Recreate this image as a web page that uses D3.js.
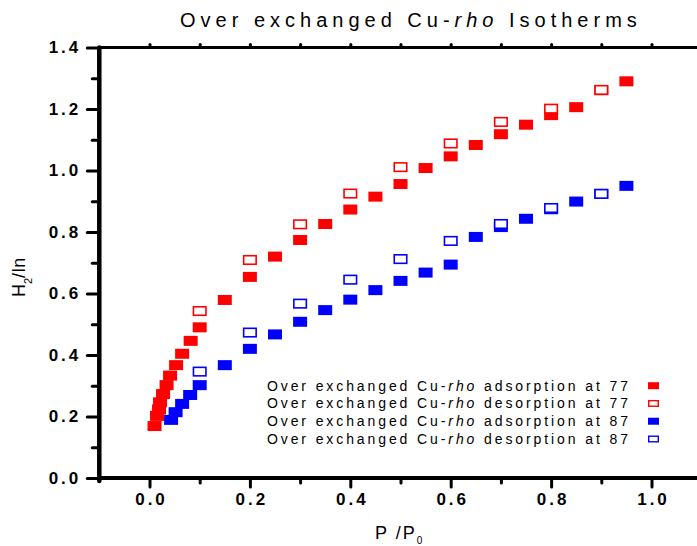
<!DOCTYPE html>
<html>
<head>
<meta charset="utf-8">
<script src="https://cdn.jsdelivr.net/npm/d3@7"></script>
<style>
  html, body { margin: 0; padding: 0; background: #fff; overflow: hidden; }
  svg { display: block; font-family: "Liberation Sans", Arial, sans-serif; }
</style>
</head>
<body>
<svg id="chart" width="697" height="546"></svg>
<script>
// H2 uptake (H2/In) vs relative pressure P/P0
const ads77X = [0.010, 0.015, 0.019, 0.021, 0.027, 0.034, 0.041, 0.053, 0.065, 0.082, 0.10,
                0.15, 0.20, 0.25, 0.30, 0.35, 0.40, 0.45, 0.50, 0.55, 0.60, 0.65, 0.70,
                0.75, 0.80, 0.85, 0.90, 0.95];
const ads77Y = [0.169, 0.202, 0.223, 0.246, 0.273, 0.302, 0.333, 0.367, 0.404, 0.446, 0.490,
                0.579, 0.654, 0.720, 0.774, 0.826, 0.873, 0.915, 0.956, 1.008, 1.046, 1.083, 1.118,
                1.149, 1.180, 1.206, 1.261, 1.290];

const des77X = [0.10, 0.20, 0.30, 0.40, 0.50, 0.60, 0.70, 0.80, 0.90];
const des77Y = [0.543, 0.709, 0.825, 0.925, 1.011, 1.088, 1.158, 1.201, 1.262];

const ads87X = [0.043, 0.052, 0.065, 0.081, 0.10, 0.15, 0.20, 0.25, 0.30, 0.35, 0.40,
                0.45, 0.50, 0.55, 0.60, 0.65, 0.70, 0.75, 0.80, 0.85, 0.90, 0.95];
const ads87Y = [0.189, 0.214, 0.241, 0.270, 0.302, 0.367, 0.420, 0.467, 0.508, 0.546, 0.580,
                0.611, 0.641, 0.668, 0.694, 0.784, 0.816, 0.843, 0.874, 0.899, 0.924, 0.950];

const des87X = [0.10, 0.20, 0.30, 0.40, 0.50, 0.60, 0.70, 0.80, 0.90];
const des87Y = [0.346, 0.473, 0.567, 0.645, 0.712, 0.771, 0.826, 0.878, 0.924];

const seriesLabels = ["adsorption at 77", "desorption at 77", "adsorption at 87", "desorption at 87"];
const seriesColors = ["#ff0000", "#ff0000", "#0000ff", "#0000ff"];
const seriesFilled = [true, false, true, false];

const xMajorTicks = [0.0, 0.2, 0.4, 0.6, 0.8, 1.0];
const xMinorTicks = [0.1, 0.3, 0.5, 0.7, 0.9];
const yMajorTicks = [0.0, 0.2, 0.4, 0.6, 0.8, 1.0, 1.2, 1.4];
const yMinorTicks = [0.1, 0.3, 0.5, 0.7, 0.9, 1.1, 1.3];

const svg = d3.select("#chart");

const x = d3.scaleLinear().domain([-0.1, 1.1]).range([99.3, 701.7]);
const y = d3.scaleLinear().domain([0, 1.4]).range([478, 47.5]);

const tickFont = { size: 17, ls: 3 };

function styleTicks(g, width) {
  g.select(".domain").remove();
  g.selectAll(".tick line")
    .attr("stroke", "#000")
    .attr("stroke-width", width)
    .attr("stroke-linecap", "round");
  g.selectAll(".tick text")
    .attr("fill", "#000")
    .attr("font-size", tickFont.size)
    .attr("font-weight", "bold")
    .attr("letter-spacing", tickFont.ls)
    .attr("font-family", "'Liberation Sans', Arial, sans-serif");
}

// bottom axis
svg.append("g").attr("transform", `translate(0,${y(0)})`)
  .call(d3.axisBottom(x).tickValues(xMinorTicks).tickSize(5).tickFormat(""))
  .call(g => styleTicks(g, 3));
svg.append("g").attr("transform", `translate(0,${y(0)})`)
  .call(d3.axisBottom(x).tickValues(xMajorTicks).tickSize(9).tickPadding(6)
    .tickFormat(d3.format(".1f")))
  .call(g => styleTicks(g, 3))
  .call(g => g.selectAll(".tick text").attr("dx", tickFont.ls / 2));

// top axis (ticks only)
svg.append("g").attr("transform", `translate(0,${y(1.4)})`)
  .call(d3.axisTop(x).tickValues(xMajorTicks.concat(xMinorTicks)).tickSize(3).tickFormat(""))
  .call(g => styleTicks(g, 3));

// left axis
svg.append("g").attr("transform", `translate(${x(-0.1)},0)`)
  .call(d3.axisLeft(y).tickValues(yMinorTicks).tickSize(7).tickFormat(""))
  .call(g => styleTicks(g, 3));
svg.append("g").attr("transform", `translate(${x(-0.1)},0)`)
  .call(d3.axisLeft(y).tickValues(yMajorTicks).tickSize(12).tickPadding(6)
    .tickFormat(d3.format(".1f")))
  .call(g => styleTicks(g, 3));

// frame
const frame = svg.append("g").attr("stroke", "#000").attr("stroke-linecap", "round");
frame.append("line").attr("x1", x(-0.1)).attr("x2", x(1.1)).attr("y1", y(1.4)).attr("y2", y(1.4))
  .attr("stroke-width", 3);
frame.append("line").attr("x1", x(1.1)).attr("x2", x(1.1)).attr("y1", y(1.4)).attr("y2", y(0))
  .attr("stroke-width", 4);
frame.append("line").attr("x1", x(-0.1)).attr("x2", x(1.1)).attr("y1", y(0)).attr("y2", y(0))
  .attr("stroke-width", 4);
frame.append("line").attr("x1", x(-0.1)).attr("x2", x(-0.1)).attr("y1", y(1.4)).attr("y2", y(0) + 3)
  .attr("stroke-width", 4.5);

// data markers
const series = [
  { xs: ads77X, ys: ads77Y },
  { xs: des77X, ys: des77Y },
  { xs: ads87X, ys: ads87Y },
  { xs: des87X, ys: des87Y }
];
const mw = 14, mh = 10;
series.forEach((s, i) => {
  const pts = s.xs.map((v, k) => [v, s.ys[k]]);
  const filled = seriesFilled[i];
  svg.append("g").selectAll("rect").data(pts).join("rect")
    .attr("x", d => x(d[0]) - mw / 2 + (filled ? 0 : 0.75))
    .attr("y", d => y(d[1]) - mh / 2 + (filled ? 0 : 0.75))
    .attr("width", filled ? mw : mw - 1.5)
    .attr("height", filled ? mh : mh - 1.5)
    .attr("fill", filled ? seriesColors[i] : "#fff")
    .attr("stroke", filled ? "none" : seriesColors[i])
    .attr("stroke-width", 1.6);
});

// legend
const legend = svg.append("g");
const legendRowY = d3.scaleLinear().domain([0, 3]).range([385.7, 439]);
seriesLabels.forEach((lab, i) => {
  const cy = legendRowY(i);
  const t = legend.append("text")
    .attr("x", 628 + 2.9).attr("y", cy + 5)
    .attr("text-anchor", "end")
    .attr("font-size", 14)
    .attr("letter-spacing", 2.9)
    .attr("fill", "#000");
  t.append("tspan").text("Over exchanged Cu-");
  t.append("tspan").attr("font-style", "italic").text("rho");
  t.append("tspan").text(" " + lab);
  const filled = seriesFilled[i];
  legend.append("rect")
    .attr("x", 648 + (filled ? 0 : 0.7)).attr("y", cy - 3.5 + (filled ? 0 : 0.7))
    .attr("width", filled ? 11 : 9.6).attr("height", filled ? 7 : 5.6)
    .attr("fill", filled ? seriesColors[i] : "#fff")
    .attr("stroke", filled ? "none" : seriesColors[i])
    .attr("stroke-width", 1.4);
});

// title
const title = svg.append("text")
  .attr("x", 180).attr("y", 27)
  .attr("font-size", 20)
  .attr("letter-spacing", 5)
  .attr("fill", "#000");
title.append("tspan").text("Over exchanged Cu-");
title.append("tspan").attr("font-style", "italic").text("rho");
title.append("tspan").text(" Isotherms");

// x axis title
const xt = svg.append("text")
  .attr("x", 375).attr("y", 539)
  .attr("font-size", 18)
  .attr("letter-spacing", 2)
  .attr("fill", "#000");
xt.append("tspan").text("P /P");
xt.append("tspan").attr("font-size", 10).attr("dy", 5).text("0");

// y axis title
const yt = svg.append("text")
  .attr("transform", "translate(25,297) rotate(-90)")
  .attr("font-size", 18)
  .attr("fill", "#000");
yt.append("tspan").text("H");
yt.append("tspan").attr("font-size", 11).attr("dy", 7).text("2");
yt.append("tspan").attr("dy", -7).text("/In");
</script>
</body>
</html>
